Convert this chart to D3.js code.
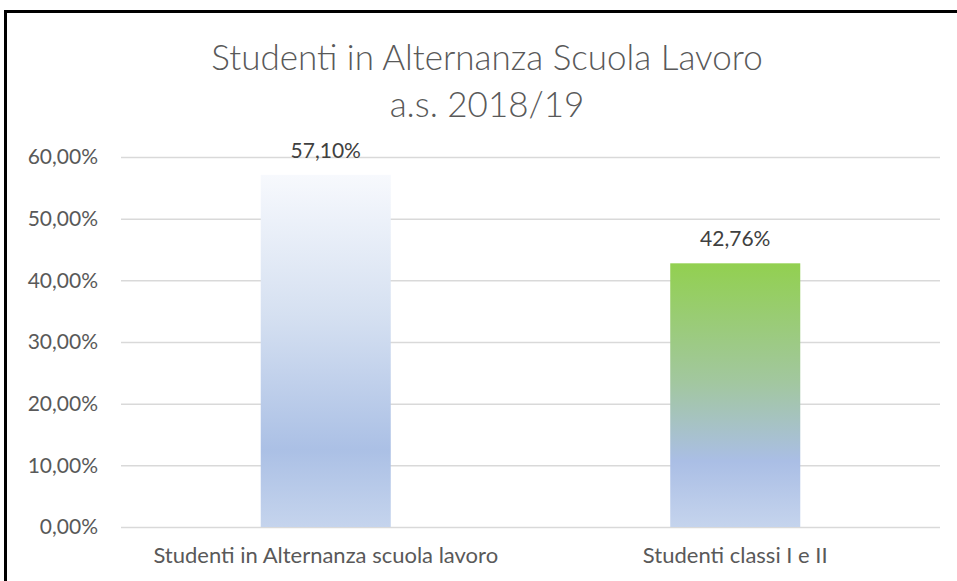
<!DOCTYPE html>
<html lang="it">
<head>
    <meta charset="utf-8">
    <title>Studenti in Alternanza Scuola Lavoro</title>
    <script src="https://cdn.jsdelivr.net/npm/d3@7"></script>
    <style type="text/css">
        body { margin: 0; background: #fff; }
        text { font-family: Lato, "Open Sans", sans-serif; fill: #595959; }
        text.title { font-size: 35px; font-weight: 300; }
        text.label { font-size: 21px; fill: #404040; }
    </style>
</head>
<body>
<script type="text/javascript">

    var categories = ["Studenti in Alternanza scuola lavoro", "Studenti classi I e II"];
    var values = [57.10, 42.76];
    var valueLabels = ["57,10%", "42,76%"];
    var yTicks = [0, 10, 20, 30, 40, 50, 60];
    var titleLines = ["Studenti in Alternanza Scuola Lavoro", "a.s. 2018/19"];

    var w = 957;
    var h = 581;
    var plotLeft = 121, plotRight = 940, plotTop = 157, plotBottom = 527;

    var svg = d3.select("body")
        .append("svg")
        .attr("width", w)
        .attr("height", h);

    //Gradients
    var defs = svg.append("defs");
    var grads = [
        [["0%", "#f7f9fd"], ["40%", "#d5e0f1"], ["78%", "#abc0e5"], ["100%", "#c5d4ed"]],
        [["0%", "#92d050"], ["45%", "#a2c79f"], ["75%", "#aabee5"], ["100%", "#c5d4ed"]]
    ];
    grads.forEach(function (stops, i) {
        var g = defs.append("linearGradient")
            .attr("id", "grad" + i)
            .attr("x1", 0).attr("y1", 0).attr("x2", 0).attr("y2", 1);
        stops.forEach(function (s) {
            g.append("stop").attr("offset", s[0]).attr("stop-color", s[1]);
        });
    });

    //Frame
    svg.append("rect")
        .attr("x", 5.5).attr("y", 11.5)
        .attr("width", w + 10).attr("height", h + 10)
        .attr("fill", "none")
        .attr("stroke", "#000")
        .attr("stroke-width", 3);

    //Title
    svg.selectAll("text.title")
        .data(titleLines)
        .enter()
        .append("text")
        .attr("class", "title")
        .attr("x", 487)
        .attr("y", function (d, i) { return 70 + i * 47; })
        .attr("text-anchor", "middle")
        .text(function (d) { return d; });

    var xScale = d3.scaleBand()
        .domain(categories)
        .range([plotLeft, plotRight])
        .paddingInner(0.6825)
        .paddingOuter(0.34125);

    var yScale = d3.scaleLinear()
        .domain([0, 60])
        .range([plotBottom, plotTop]);

    //Gridlines + y labels
    var yAxis = d3.axisLeft(yScale)
        .tickValues(yTicks)
        .tickSize(-(plotRight - plotLeft))
        .tickPadding(23)
        .tickFormat(function (d) { return d3.format(".2f")(d).replace(".", ",") + "%"; });

    var gy = svg.append("g")
        .attr("transform", "translate(" + plotLeft + ",0)")
        .call(yAxis);
    gy.select(".domain").remove();
    gy.selectAll("line").attr("stroke", "#d9d9d9").attr("stroke-width", 1.5);
    gy.selectAll("text")
        .attr("font-family", "Lato, sans-serif")
        .attr("font-size", 21)
        .attr("fill", "#595959");

    //Bars
    svg.selectAll("rect.bar")
        .data(values)
        .enter()
        .append("rect")
        .attr("class", "bar")
        .attr("x", function (d, i) { return xScale(categories[i]); })
        .attr("y", function (d) { return yScale(d); })
        .attr("width", xScale.bandwidth())
        .attr("height", function (d) { return yScale(0) - yScale(d); })
        .attr("fill", function (d, i) { return "url(#grad" + i + ")"; });

    //Value labels
    svg.selectAll("text.label")
        .data(values)
        .enter()
        .append("text")
        .attr("class", "label")
        .attr("x", function (d, i) { return xScale(categories[i]) + xScale.bandwidth() / 2; })
        .attr("y", function (d) { return yScale(d) - 17; })
        .attr("text-anchor", "middle")
        .text(function (d, i) { return valueLabels[i]; });

    //X axis labels
    var xAxis = d3.axisBottom(xScale)
        .tickSize(0)
        .tickPadding(20);
    var gx = svg.append("g")
        .attr("transform", "translate(0," + plotBottom + ")")
        .call(xAxis);
    gx.select(".domain").remove();
    gx.selectAll("text")
        .attr("font-family", "Lato, sans-serif")
        .attr("font-size", 22)
        .attr("fill", "#595959");

</script>
</body>
</html>
